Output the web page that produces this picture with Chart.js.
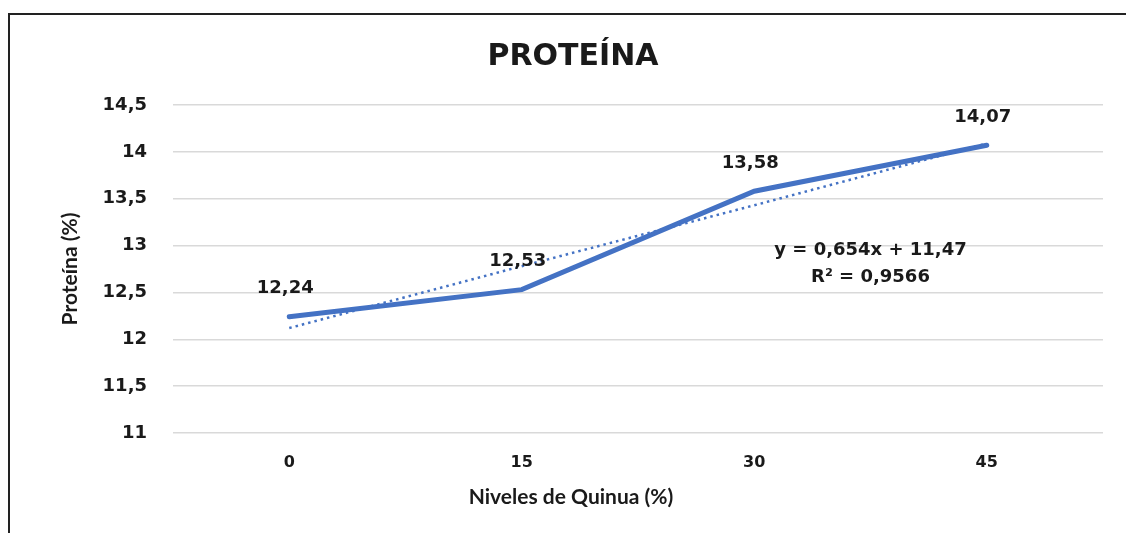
<!DOCTYPE html>
<html>
<head>
<meta charset="utf-8">
<script src="https://cdn.jsdelivr.net/npm/chart.js@4"></script>
<style>
    html, body { margin: 0; padding: 0; background: #fff; }
    #wrap { position: relative; width: 1126px; height: 533px; }
</style>
</head>
<body>
<div id="wrap"><canvas id="proteinChart" width="1126" height="533"></canvas></div>
<script>
// Quinoa levels (x categories)
const quinoaLevels = ['0', '15', '30', '45'];

// Measured protein (%)
const proteinValues = [12.24, 12.53, 13.58, 14.07];

// Linear trendline
const trendValues = [12.12, 12.78, 13.43, 14.09];
const trendText = ['y = 0,654x + 11,47', 'R² = 0,9566'];

// Y axis range
const yMin = 11;
const yMax = 14.5;
const yStep = 0.5;

const lineBlue = '#4472C4';
const textColor = '#1a1a1a';
const numFont = 'DejaVu Sans';
const titleFont = 'Lato';

// Spanish style decimals
const toComma = v => String(v).replace('.', ',');

// Frame, title, data labels, trend equation and x title
const extrasPlugin = {
    id: 'extras',
    beforeDraw(chart) {
        const ctx = chart.ctx;
        ctx.save();
        ctx.fillStyle = '#fff';
        ctx.fillRect(0, 0, chart.width, chart.height);
        ctx.fillStyle = '#222';
        ctx.fillRect(8, 13, 2, chart.height - 13);
        ctx.fillRect(8, 13, chart.width - 8, 2);

        ctx.fillStyle = textColor;
        ctx.textAlign = 'center';
        ctx.textBaseline = 'middle';
        ctx.font = 'bold 30px "' + numFont + '"';
        ctx.fillText('PROTEÍNA', 573, 57);
        ctx.restore();
    },
    afterDatasetsDraw(chart) {
        const ctx = chart.ctx;
        const x = chart.scales.x;
        const y = chart.scales.y;
        ctx.save();
        ctx.fillStyle = textColor;
        ctx.textAlign = 'center';
        ctx.textBaseline = 'middle';

        // value labels above each point
        ctx.font = 'bold 18px "' + numFont + '"';
        proteinValues.forEach((v, i) => {
            ctx.fillText(toComma(v.toFixed(2)), x.getPixelForValue(i) - 4, y.getPixelForValue(v) - 28);
        });

        // trendline equation
        const ex = x.getPixelForValue(2.5);
        const ey = y.getPixelForValue(12.95);
        ctx.fillText(trendText[0], ex, ey);
        ctx.fillText(trendText[1], ex, ey + 27);

        // x axis title
        ctx.font = 'bold 21px "' + titleFont + '"';
        ctx.fillText('Niveles de Quinua (%)', 571, 497);
        ctx.restore();
    }
};

function initializeChart() {
    const ctx = document.getElementById('proteinChart');

    new Chart(ctx, {
        type: 'line',
        data: {
            labels: quinoaLevels,
            datasets: [
                {
                    label: 'Proteína',
                    data: proteinValues,
                    borderColor: lineBlue,
                    borderWidth: 5,
                    borderCapStyle: 'round',
                    pointRadius: 0,
                    tension: 0,
                    order: 1
                },
                {
                    label: 'Lineal (Proteína)',
                    data: trendValues,
                    borderColor: lineBlue,
                    borderWidth: 2.5,
                    borderDash: [2.5, 4],
                    pointRadius: 0,
                    tension: 0,
                    order: 0
                }
            ]
        },
        options: {
            responsive: false,
            animation: false,
            layout: {
                padding: { left: 0, right: 23, top: 105, bottom: 0 }
            },
            plugins: {
                legend: { display: false },
                tooltip: { enabled: false },
                title: { display: false }
            },
            scales: {
                x: {
                    offset: true,
                    grid: { display: false, drawTicks: false },
                    border: { display: false },
                    ticks: {
                        color: textColor,
                        padding: 20,
                        font: { family: numFont, size: 16, weight: 'bold' }
                    },
                    afterFit(scale) { scale.height = 100; }
                },
                y: {
                    min: yMin,
                    max: yMax,
                    grid: { color: '#d9d9d9', lineWidth: 1.5, drawTicks: false },
                    border: { display: false },
                    ticks: {
                        stepSize: yStep,
                        color: textColor,
                        padding: 26,
                        font: { family: numFont, size: 18, weight: 'bold' },
                        callback: v => toComma(v)
                    },
                    title: {
                        display: true,
                        text: 'Proteína (%)',
                        color: textColor,
                        font: { family: titleFont, size: 21, weight: 'bold' },
                        padding: { top: 58, bottom: 0 }
                    },
                    afterFit(scale) { scale.width = 173; }
                }
            }
        },
        plugins: [extrasPlugin]
    });
}

document.addEventListener('DOMContentLoaded', initializeChart);
</script>
</body>
</html>
